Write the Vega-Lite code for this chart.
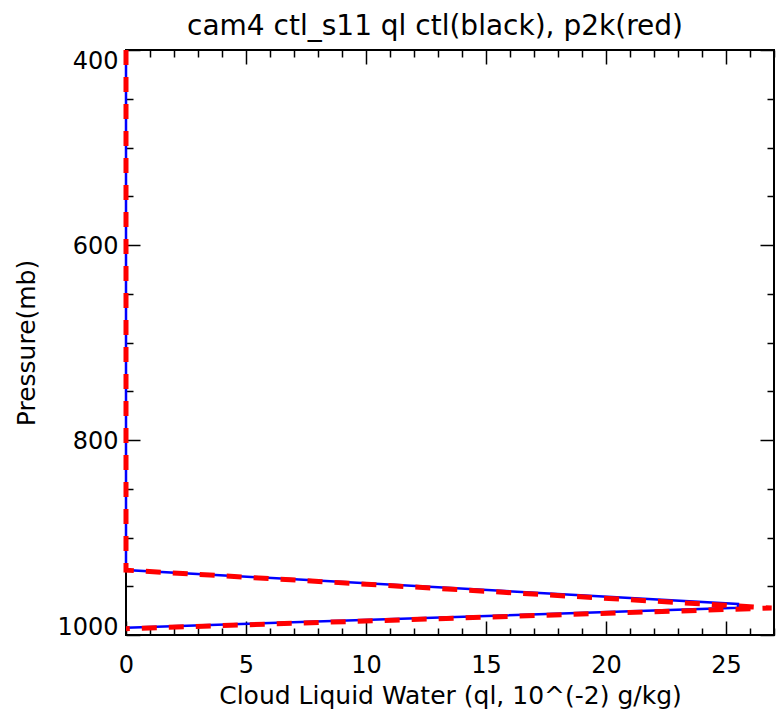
{
  "$schema": "https://vega.github.io/schema/vega-lite/v6.json",
  "width": 648,
  "height": 585,
  "autosize": {"type": "none"},
  "padding": {"left": 126, "top": 50, "right": 5, "bottom": 79},
  "background": "white",
  "config": {
    "view": {"stroke": "black", "strokeWidth": 2},
    "font": "DejaVu Sans"
  },
  "title": {
    "text": "cam4 ctl_s11 ql ctl(black), p2k(red)",
    "font": "DejaVu Sans",
    "fontSize": 28,
    "fontWeight": "normal",
    "color": "black",
    "anchor": "middle",
    "dx": -15,
    "baseline": "alphabetic",
    "offset": -23
  },
  "datasets": {
    "ctl": [
      {"p": 400, "ql": 0},
      {"p": 933.3, "ql": 0},
      {"p": 968.2, "ql": 25.5},
      {"p": 972, "ql": 25.5},
      {"p": 992.5, "ql": 0}
    ],
    "p2k": [
      {"p": 400, "ql": 0},
      {"p": 933.5, "ql": 0},
      {"p": 972.3, "ql": 26.9},
      {"p": 993.5, "ql": 0}
    ]
  },
  "resolve": {
    "scale": {"x": "shared", "y": "shared"},
    "axis": {"x": "independent", "y": "independent"}
  },
  "layer": [
    {
      "data": {"name": "ctl"},
      "mark": {"type": "line", "color": "#0000ff", "strokeWidth": 2.5, "clip": false},
      "encoding": {
        "x": {
          "field": "ql", "type": "quantitative",
          "scale": {"domain": [0, 27], "nice": false, "zero": false},
          "axis": {
            "orient": "bottom",
            "values": [0, 5, 10, 15, 20, 25],
            "domain": false, "ticks": false, "tickSize": 0, "grid": false,
            "labelFont": "DejaVu Sans", "labelFontSize": 24, "labelColor": "black",
            "labelPadding": 18, "labelOverlap": false, "labelFlush": false,
            "title": "Cloud Liquid Water (ql, 10^(-2) g/kg)",
            "titleFont": "DejaVu Sans", "titleFontSize": 25, "titleFontWeight": "normal",
            "titleColor": "black", "titleBaseline": "alphabetic", "titleY": 68
          }
        },
        "y": {
          "field": "p", "type": "quantitative",
          "scale": {"domain": [400, 1000], "reverse": true, "nice": false, "zero": false},
          "axis": {
            "orient": "left",
            "values": [400, 600, 800, 1000],
            "format": "d",
            "domain": false, "ticks": false, "tickSize": 0, "grid": false,
            "labelFont": "DejaVu Sans", "labelFontSize": 24, "labelColor": "black",
            "labelPadding": 8, "labelOverlap": false, "labelFlush": false,
            "labelBaseline": "middle",
            "labelOffset": {
              "condition": [
                {"test": "datum.value === 400", "value": 11},
                {"test": "datum.value === 1000", "value": -8}
              ],
              "value": 1
            },
            "title": "Pressure(mb)",
            "titleFont": "DejaVu Sans", "titleFontSize": 25, "titleFontWeight": "normal",
            "titleColor": "black", "titleBaseline": "alphabetic", "titleAngle": 270, "titleX": -92
          }
        },
        "order": {"field": "p", "type": "quantitative"}
      }
    },
    {
      "data": {"name": "p2k"},
      "mark": {"type": "line", "color": "#ff0000", "strokeWidth": 5, "strokeDash": [15, 12], "strokeCap": "butt", "clip": false},
      "encoding": {
        "x": {
          "field": "ql", "type": "quantitative",
          "axis": {
            "orient": "top", "offset": -585,
            "values": [0,1,2,3,4,5,6,7,8,9,10,11,12,13,14,15,16,17,18,19,20,21,22,23,24,25,26,27],
            "domain": false, "labels": false, "grid": false, "ticks": true,
            "tickColor": "black", "tickWidth": 1.5,
            "tickSize": {"condition": {"test": "datum.value % 5 === 0", "value": 14}, "value": 7},
            "title": null
          }
        },
        "y": {
          "field": "p", "type": "quantitative",
          "axis": {
            "orient": "right", "offset": -648,
            "values": [400,450,500,550,600,650,700,750,800,850,900,950,1000],
            "domain": false, "labels": false, "grid": false, "ticks": true,
            "tickColor": "black", "tickWidth": 1.5,
            "tickSize": {"condition": {"test": "datum.value % 200 === 0", "value": 14}, "value": 7},
            "title": null
          }
        },
        "order": {"field": "p", "type": "quantitative"}
      }
    },
    {
      "data": {"name": "ctl"},
      "mark": {"type": "line", "opacity": 0, "clip": false},
      "encoding": {
        "x": {
          "field": "ql", "type": "quantitative",
          "axis": {
            "orient": "bottom", "offset": -585,
            "values": [0,1,2,3,4,5,6,7,8,9,10,11,12,13,14,15,16,17,18,19,20,21,22,23,24,25,26,27],
            "domain": false, "labels": false, "grid": false, "ticks": true,
            "tickColor": "black", "tickWidth": 1.5,
            "tickSize": {"condition": {"test": "datum.value % 5 === 0", "value": 14}, "value": 7},
            "title": null
          }
        },
        "y": {
          "field": "p", "type": "quantitative",
          "axis": {
            "orient": "left", "offset": -648,
            "values": [400,450,500,550,600,650,700,750,800,850,900,950,1000],
            "domain": false, "labels": false, "grid": false, "ticks": true,
            "tickColor": "black", "tickWidth": 1.5,
            "tickSize": {"condition": {"test": "datum.value % 200 === 0", "value": 14}, "value": 7},
            "title": null
          }
        },
        "order": {"field": "p", "type": "quantitative"}
      }
    }
  ]
}
